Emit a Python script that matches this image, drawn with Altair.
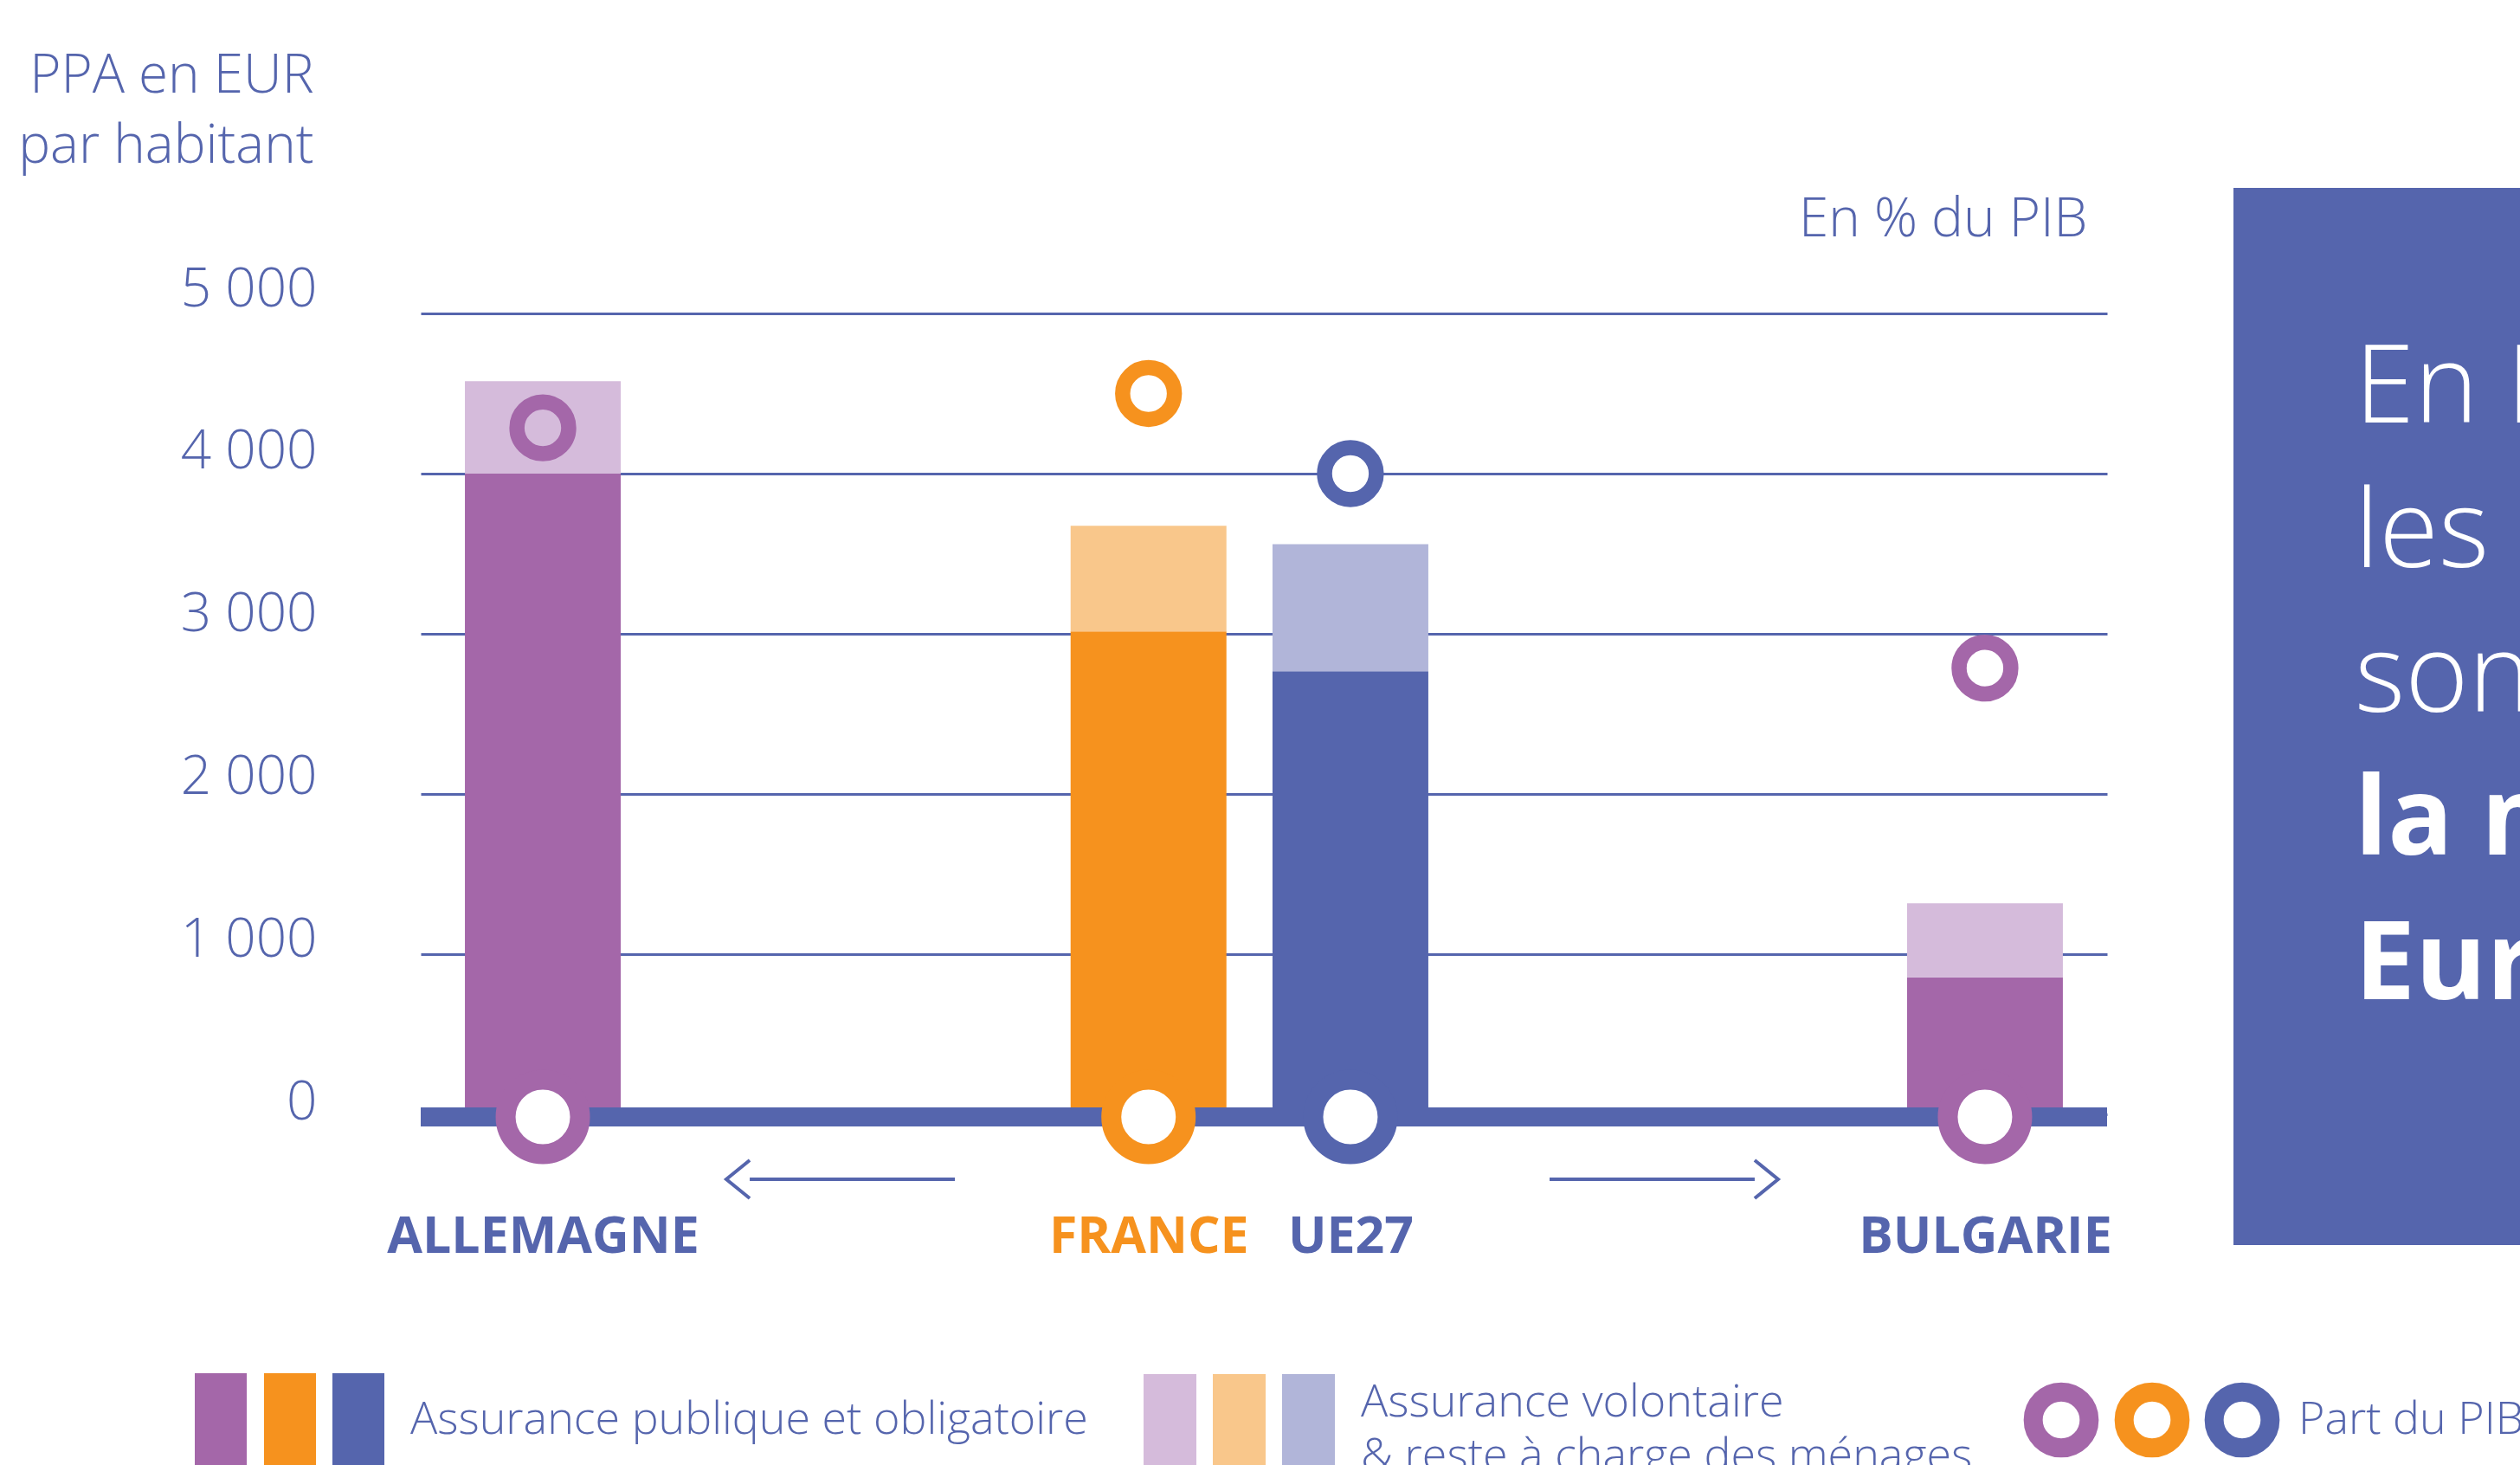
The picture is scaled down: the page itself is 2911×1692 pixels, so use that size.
import math
import altair as alt
import pandas as pd

# ---------------- data ----------------
pays = ["ALLEMAGNE", "FRANCE", "UE27", "BULGARIE"]
assurance_publique = [4000, 3015, 2766, 855]          # PPA en EUR par habitant
assurance_volontaire = [577, 659, 794, 462]           # PPA en EUR par habitant
part_pib = [12.0, 12.6, 11.2, 7.8]                     # en % du PIB

couleurs_fortes = ["#a467a9", "#f6921e", "#5565ad", "#a467a9"]
couleurs_claires = ["#d5bbdb", "#f9c78b", "#b1b5d9", "#d5bbdb"]

# category axis slots: empty slots around / between countries reproduce the original spacing
marge = 4
ecarts = [20, 6, 21]
emplacements = [f"_s{k}" for k in range(marge)] + [pays[0]]
for i, n in enumerate(ecarts):
    emplacements += [f"_{i}_{k}" for k in range(n)]
    emplacements.append(pays[i + 1])
emplacements += [f"_e{k}" for k in range(marge)]

texte_encadre_1 = ["En France,", "les dépenses de santé", "sont supérieures à"]
texte_encadre_2 = ["la moyenne", "Européenne"]
legende_1 = "Assurance publique et obligatoire"
legende_2 = ["Assurance volontaire", "& reste à charge des ménages"]
legende_3 = "Part du PIB"

BLEU = "#5565ad"
FONT = "Open Sans"

df = pd.DataFrame({
    "pays": pays,
    "publique": assurance_publique,
    "volontaire": assurance_volontaire,
    "pib": part_pib,
})
one = pd.DataFrame({"k": [0]})

W, H = 1948, 925
BAR_W = 180

xscale = alt.Scale(type="point", domain=emplacements, padding=0.2335, align=0.4992)
xaxis = alt.Axis(
    title=None, orient="bottom", domain=False, ticks=False, tickSize=0, grid=False,
    labelExpr="indexof(datum.value, '_') == 0 ? '' : datum.value",
    labelColor=alt.ExprRef(expr="datum.value == 'FRANCE' ? '#f6921e' : '#5565ad'"),
    labelFont=FONT, labelFontSize=59, labelFontWeight="bold", labelAngle=0,
    labelPadding=159, labelBaseline="alphabetic", labelLimit=0, labelOverlap=False,
)
X = alt.X("pays:N", scale=xscale, axis=xaxis, sort=None)

yscale = alt.Scale(domain=[0, 5000], nice=False)
yaxis = alt.Axis(
    values=[0, 1000, 2000, 3000, 4000, 5000],
    labelExpr="replace(format(datum.value, ','), ',', ' ')",
    domain=False, ticks=False, tickSize=0,
    grid=True, gridColor=BLEU, gridWidth=3, gridOpacity=1,
    labelFont=FONT, labelFontSize=62, labelFontWeight=300, labelColor=BLEU,
    labelPadding=120, labelBaseline="alphabetic",
    labelOffset=alt.ExprRef(expr="-9 + (5000 - datum.value) * 0.0029"),
    title=["PPA en EUR", "par habitant"], titleFont=FONT, titleFontSize=62,
    titleFontWeight=300, titleColor=BLEU, titleAngle=0, titleAlign="right",
    titleBaseline="alphabetic", titleX=-124, titleY=-256, titleLineHeight=81,
    titleLimit=2000,
)

dark = alt.Color("pays:N", scale=alt.Scale(domain=pays, range=couleurs_fortes), legend=None)
light = alt.Color("pays:N", scale=alt.Scale(domain=pays, range=couleurs_claires), legend=None)

base = alt.Chart(df)

bars_dark = base.mark_bar(width=BAR_W).encode(
    x=X, y=alt.Y("publique:Q", scale=yscale, axis=yaxis), color=dark
)
bars_light = base.transform_calculate(total="datum.publique + datum.volontaire").mark_bar(width=BAR_W).encode(
    x=X, y=alt.Y("publique:Q", scale=yscale, axis=yaxis), y2="total:Q", color=light
)
baseline = alt.Chart(one).mark_rule(color=BLEU, strokeWidth=22, yOffset=3).encode(
    y=alt.Y(datum=0, scale=yscale, axis=yaxis)
)
d_big = 97
bottom_rings = base.mark_point(
    shape="circle", filled=False, fill="white", opacity=1, yOffset=3,
    size=math.pi / 4 * d_big ** 2, strokeWidth=23,
).encode(x=X, y=alt.Y(datum=0, scale=yscale, axis=yaxis), color=dark)

left = alt.layer(bars_dark, bars_light, baseline, bottom_rings).resolve_scale(color="independent")

d_small = 67.5
top_rings = base.mark_point(
    shape="circle", filled=False, opacity=1,
    size=math.pi / 4 * d_small ** 2, strokeWidth=17.5,
).encode(
    x=X,
    y=alt.Y("pib:Q", scale=alt.Scale(domain=[0, 14], nice=False),
            axis=alt.Axis(orient="right", labels=False, ticks=False, tickSize=0,
                          domain=False, grid=False, title="En % du PIB",
                          titleFont=FONT, titleFontSize=62, titleFontWeight=300,
                          titleColor=BLEU, titleAngle=0, titleAlign="right",
                          titleBaseline="alphabetic", titleX=-23, titleY=-90)),
    color=dark,
    fill=alt.condition(alt.datum.pays == "ALLEMAGNE", alt.value("transparent"), alt.value("white")),
)

# ---------------- decorations ----------------
decor = []

def rect(x1, x2, y1, y2, color):
    return alt.Chart(one).mark_rect(color=color).encode(
        x=alt.value(x1), x2=alt.value(x2), y=alt.value(y1), y2=alt.value(y2))

def text(t, x, y, size, weight, color, lh=None):
    kw = dict(text=t, font=FONT, fontSize=size, fontWeight=weight, color=color,
              align="left", baseline="alphabetic")
    if lh:
        kw["lineHeight"] = lh
    return alt.Chart(one).mark_text(**kw).encode(x=alt.value(x), y=alt.value(y))

def ring(x, y, d, sw, color):
    return alt.Chart(one).mark_point(shape="circle", filled=False, fill="white", opacity=1,
                                     size=math.pi / 4 * d ** 2, strokeWidth=sw, color=color).encode(
        x=alt.value(x), y=alt.value(y))

def arrow(x, y, path):
    return alt.Chart(one).mark_point(shape=path, filled=False, opacity=1, size=264 ** 2,
                                     strokeWidth=4, color=BLEU).encode(
        x=alt.value(x), y=alt.value(y))

# side box
decor.append(rect(2094, 2480, -145, 1076, BLEU))
decor.append(text(texte_encadre_1, 2234, 126, 125, 300, "white", 167))
decor.append(text(texte_encadre_2, 2234, 625, 125, "bold", "white", 167))

# arrows
decor.append(arrow(485, 1000, "M-0.795,-0.1667L-1,0L-0.795,0.1667M-0.795,0L1,0"))
decor.append(arrow(1436, 1000, "M0.795,-0.1667L1,0L0.795,0.1667M0.795,0L-1,0"))

# legend
for x1, c in zip([-261, -181, -102], couleurs_fortes[:3]):
    decor.append(rect(x1, x1 + 60, 1224, 1400, c))
for x1, c in zip([835, 915, 995], couleurs_claires[:3]):
    decor.append(rect(x1, x1 + 61, 1225, 1400, c))
for xc, c in zip([1895, 2000, 2104], couleurs_fortes[:3]):
    decor.append(ring(xc, 1278, 73, 22, c))
decor.append(text(legende_1, -12, 1294, 52, 300, BLEU))
decor.append(text(legende_2, 1086, 1274, 52, 300, BLEU, 62))
decor.append(text(legende_3, 2169, 1294, 52, 300, BLEU))

chart = alt.layer(left, top_rings, *decor).resolve_scale(
    y="independent", color="independent"
).properties(
    width=W, height=H,
    padding={"left": 486, "top": 362, "right": 477, "bottom": 405},
    autosize=alt.AutoSizeParams(type="none"),
    background="white",
).configure(font=FONT).configure_view(strokeWidth=0, stroke="transparent")

chart.save("out.html", embed_options={"renderer": "svg", "actions": False})
